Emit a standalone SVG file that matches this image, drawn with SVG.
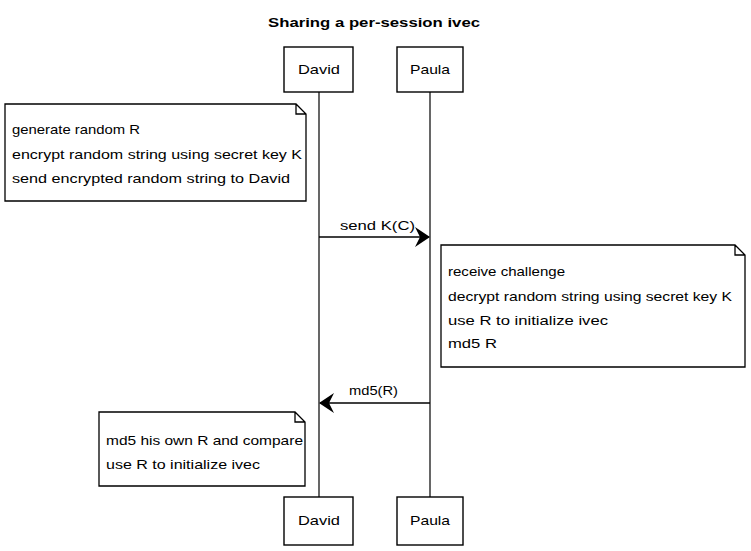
<svg xmlns="http://www.w3.org/2000/svg" width="751" height="551" viewBox="0 0 751 551">
<style>
text{font-family:"Liberation Sans",Arial,sans-serif;font-size:13px;fill:#000}
.title{font-size:13.5px;font-weight:bold}
.box{fill:#fff;stroke:#000;stroke-width:1.4}
.life{stroke:#000;stroke-width:1.2;fill:none}
.msg{stroke:#000;stroke-width:1.3;fill:none}
.note{fill:#fff;stroke:#000;stroke-width:1.3}
</style>
<defs>
<marker id="ah" markerWidth="16" markerHeight="20" refX="14" refY="10" orient="auto" markerUnits="userSpaceOnUse">
<path d="M0,0 L15,10 L0,20 L5,10 Z" fill="#000"/>
</marker>
</defs>
<rect width="751" height="551" fill="#fff"/>
<text class="title" x="268" y="27" textLength="212" lengthAdjust="spacingAndGlyphs">Sharing a per-session ivec</text>
<g id="lifelines">
<line class="life" x1="319" y1="92" x2="319" y2="497"/>
<line class="life" x1="430" y1="92" x2="430" y2="497"/>
</g>
<g id="david-top"><rect class="box" x="284" y="47" width="69" height="45"/><text x="298" y="74" textLength="42" lengthAdjust="spacingAndGlyphs">David</text></g>
<g id="paula-top"><rect class="box" x="397" y="47" width="66" height="45"/><text x="410" y="74" textLength="40" lengthAdjust="spacingAndGlyphs">Paula</text></g>
<g id="david-bottom"><rect class="box" x="284" y="497" width="69" height="48"/><text x="298" y="525" textLength="42" lengthAdjust="spacingAndGlyphs">David</text></g>
<g id="paula-bottom"><rect class="box" x="397" y="497" width="66" height="48"/><text x="410" y="525" textLength="40" lengthAdjust="spacingAndGlyphs">Paula</text></g>
<g id="note1">
<path class="note" d="M5,104 L296,104 L306,114 L306,201 L5,201 Z M296,104 L296,114 L306,114"/>
<text x="12" y="134" textLength="128" lengthAdjust="spacingAndGlyphs">generate random R</text>
<text x="12" y="159" textLength="290" lengthAdjust="spacingAndGlyphs">encrypt random string using secret key K</text>
<text x="12" y="183" textLength="278" lengthAdjust="spacingAndGlyphs">send encrypted random string to David</text>
</g>
<g id="note2">
<path class="note" d="M441,245 L735,245 L745,255 L745,367 L441,367 Z M735,245 L735,255 L745,255"/>
<text x="448" y="276" textLength="117" lengthAdjust="spacingAndGlyphs">receive challenge</text>
<text x="448" y="301" textLength="284" lengthAdjust="spacingAndGlyphs">decrypt random string using secret key K</text>
<text x="448" y="325" textLength="160" lengthAdjust="spacingAndGlyphs">use R to initialize ivec</text>
<text x="448" y="348" textLength="49" lengthAdjust="spacingAndGlyphs">md5 R</text>
</g>
<g id="note3">
<path class="note" d="M99,412 L295,412 L305,422 L305,486 L99,486 Z M295,412 L295,422 L305,422"/>
<text x="106" y="445" textLength="197" lengthAdjust="spacingAndGlyphs">md5 his own R and compare</text>
<text x="106" y="469" textLength="154" lengthAdjust="spacingAndGlyphs">use R to initialize ivec</text>
</g>
<g id="connectors">
<line class="msg" x1="319" y1="237" x2="429" y2="237" marker-end="url(#ah)"/>
<text x="340" y="230" textLength="75" lengthAdjust="spacingAndGlyphs">send K(C)</text>
<line class="msg" x1="430" y1="403" x2="320" y2="403" marker-end="url(#ah)"/>
<text x="349" y="395" textLength="49" lengthAdjust="spacingAndGlyphs">md5(R)</text>
</g>
</svg>
